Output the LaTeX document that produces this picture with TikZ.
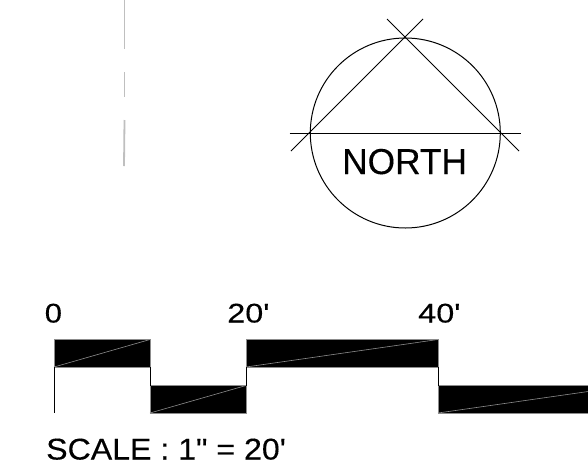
\documentclass[tikz,border=0pt]{standalone}
\usepackage{fontspec}
\newfontfamily\plainsans[FakeBold=0.25]{Liberation Sans}
\definecolor{hairline}{gray}{0.55}
\definecolor{pale}{gray}{0.75}
\tikzset{
  ink/.style={draw=black,line width=1pt},
  barfill/.style={fill=black,draw=hairline,line width=0.6pt},
  barline/.style={draw=hairline,line width=0.6pt},
  dashpart/.style={draw=pale,line width=1.8pt},
  lbl/.style={inner sep=0pt,anchor=base west,text=black,transform shape},
}
\begin{document}
\begin{tikzpicture}[x=1pt,y=-1pt]
\useasboundingbox (0,0) rectangle (588,464);
% pale broken line
\draw[dashpart] (124.5,0) -- (124.5,49);
\draw[dashpart] (124.5,72) -- (124.5,97);
\draw[dashpart] (124.5,120) -- (124,166);
% north symbol
\coordinate (c) at (405.3,133);
\draw[ink] (c) circle [radius=95];
\draw[ink] (289.5,133) -- (521,133);
\draw[ink] (291,151) -- (423,19);
\draw[ink] (387,19) -- (519,151);
\node[lbl,font=\plainsans\fontsize{36}{36}\selectfont,xscale=0.98] (north) at (342,174) {NORTH};
% scale bars
\begin{scope}
\clip (0,300) rectangle (588,464);
\draw[barfill] (54,339.5) rectangle (150,367);
\draw[barfill] (150,385.5) rectangle (246,413);
\draw[barfill] (246,339.5) rectangle (438,367);
\draw[barfill] (438,385.5) rectangle (630,413);
\draw[barline] (54,367) -- (150,339.5);
\draw[barline] (150,413) -- (246,385.5);
\draw[barline] (246,367) -- (438,339.5);
\draw[barline] (438,413) -- (630,385.5);
\draw[ink,line width=0.8pt] (54,367) -- (54,413);
\draw[ink,line width=0.8pt] (150,367) -- (150,385.5);
\draw[ink,line width=0.8pt] (246,367) -- (246,385.5);
\draw[ink,line width=0.8pt] (438,367) -- (438,385.5);
\end{scope}
\node[lbl,font=\plainsans\fontsize{27}{27}\selectfont,xscale=1.15] (t0) at (44.5,322.5) {0};
\node[lbl,font=\plainsans\fontsize{27}{27}\selectfont,xscale=1.2] (t20) at (227,322.5) {20'};
\node[lbl,font=\plainsans\fontsize{27}{27}\selectfont,xscale=1.2] (t40) at (418,322.5) {40'};
\node[lbl,font=\plainsans\fontsize{30}{30}\selectfont,xscale=1.07] (scale) at (46,459.5) {SCALE : 1" = 20'};
\end{tikzpicture}
\end{document}
